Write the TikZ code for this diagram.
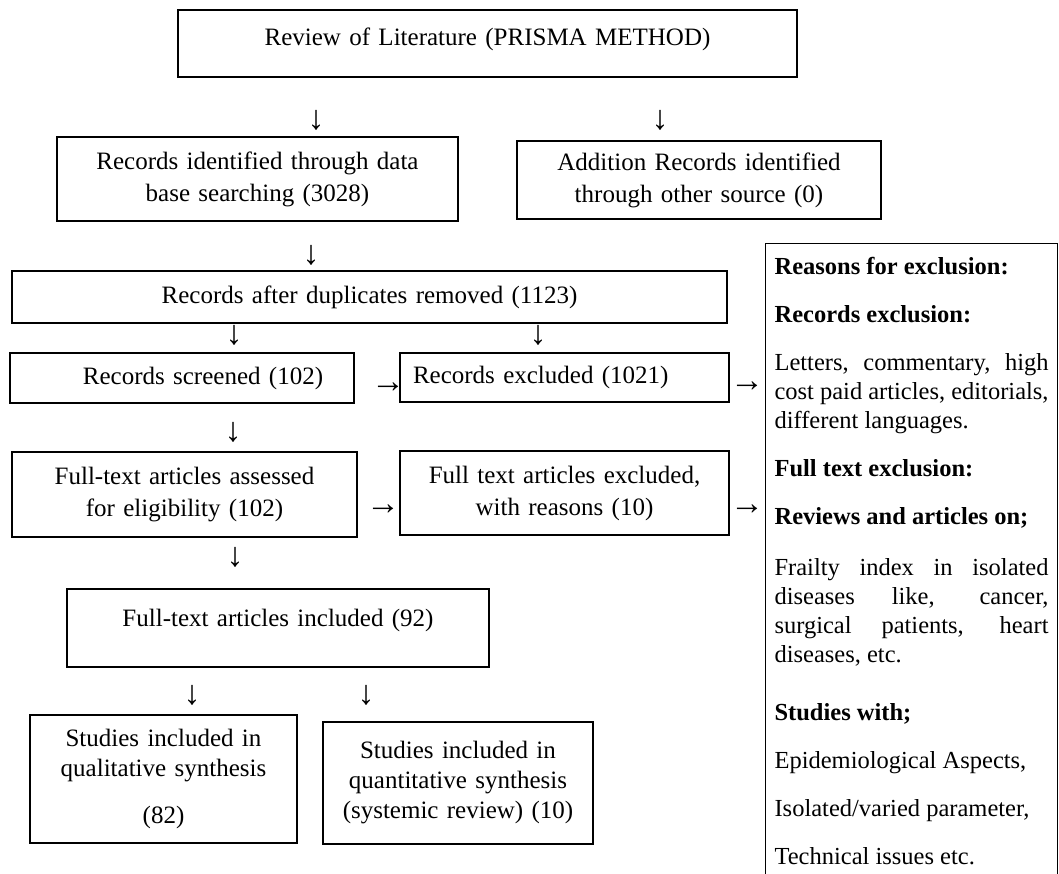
\documentclass[tikz,border=0pt]{standalone}
\usepackage{fontspec}
\setmainfont{Liberation Serif}

\begin{document}
\begin{tikzpicture}[x=1pt,y=-1pt,
			box/.style={draw,line width=1.1pt,rectangle,inner xsep=0pt,inner ysep=2pt,align=center,font=\fontsize{25}{32}\selectfont},
			arr/.style={inner sep=0pt,font=\fontsize{34}{34}\selectfont}]
			\useasboundingbox (0,0) rectangle (1059,873);
			\fill[white] (0,0) rectangle (1059,873);
			% identification
			\node (title) [box,text width=619pt,minimum height=67pt] at (487.5,43.5) {Review of Literature (PRISMA METHOD)\\[-18pt]~};
			\node (recdb) [box,text width=401pt,minimum height=84pt] at (257.5,179) {Records identified through data\\base searching (3028)};
			\node (recoth) [box,text width=364pt,minimum height=78pt] at (699,180) {Addition Records identified\\through other source (0)};
			% screening
			\node (dup) [box,text width=715pt,minimum height=52pt] at (369.5,297) {Records after duplicates removed (1123)};
			\node (scr) [box,text width=344pt,minimum height=50pt] at (182,378) {\hspace*{42pt}Records screened (102)};
			\node (screx) [box,align=left,text width=303pt,inner xsep=13pt,minimum height=49pt] at (564.5,377.5) {Records excluded (1021)};
			% eligibility
			\node (elig) [box,text width=345pt,minimum height=85pt] at (184.5,494.5) {Full-text articles assessed\\for eligibility (102)};
			\node (eligex) [box,text width=329pt,minimum height=84pt] at (564.5,493) {Full text articles excluded,\\with reasons (10)};
			% included
			\node (incl) [box,text width=422pt,minimum height=78pt] at (278,628) {Full-text articles included (92)\\[-12pt]~};
			\node (qual) [box,text width=267pt,minimum height=128pt,font=\fontsize{25}{30}\selectfont] at (163.5,779) {Studies included in\\qualitative synthesis\\[17pt](82)};
			\node (quant) [box,text width=270pt,minimum height=122pt,font=\fontsize{25}{30}\selectfont] at (458,783) {Studies included in\\quantitative synthesis\\(systemic review) (10)};
			% reasons for exclusion
			\node (reasons) [draw,line width=1.1pt,anchor=north west,text width=274pt,inner xsep=9pt,inner ysep=14pt,align=justify,font=\fontsize{24.5}{29}\selectfont] at (765,243) {%
				\textbf{Reasons for exclusion:}\\[19pt]
				\textbf{Records exclusion:}\\[19pt]
				Letters, commentary, high\linebreak cost paid articles, editorials,\linebreak different languages.\\[19pt]
				\textbf{Full text exclusion:}\\[19pt]
				\textbf{Reviews and articles on;}\\[22pt]
				Frailty index in isolated\linebreak diseases like, cancer,\linebreak surgical patients, heart\linebreak diseases, etc.\\[29pt]
				\textbf{Studies with;}\\[19pt]
				Epidemiological Aspects,\\[19pt]
				Isolated/varied parameter,\\[19pt]
				Technical issues etc.};
			% arrows
			\node (dn1) [arr] at (316,120) {↓};
			\node (dn2) [arr] at (660,120) {↓};
			\node (dn3) [arr] at (311,255) {↓};
			\node (dn4) [arr] at (234,335) {↓};
			\node (dn5) [arr] at (538,335) {↓};
			\node (rt1) [arr] at (388,388) {→};
			\node (rt2) [arr] at (747,387) {→};
			\node (dn6) [arr] at (233,432) {↓};
			\node (rt3) [arr] at (383,510) {→};
			\node (rt4) [arr] at (747,510) {→};
			\node (dn7) [arr] at (235,557) {↓};
			\node (dn8) [arr] at (192,695) {↓};
			\node (dn9) [arr] at (366,695) {↓};
		\end{tikzpicture}
\end{document}
